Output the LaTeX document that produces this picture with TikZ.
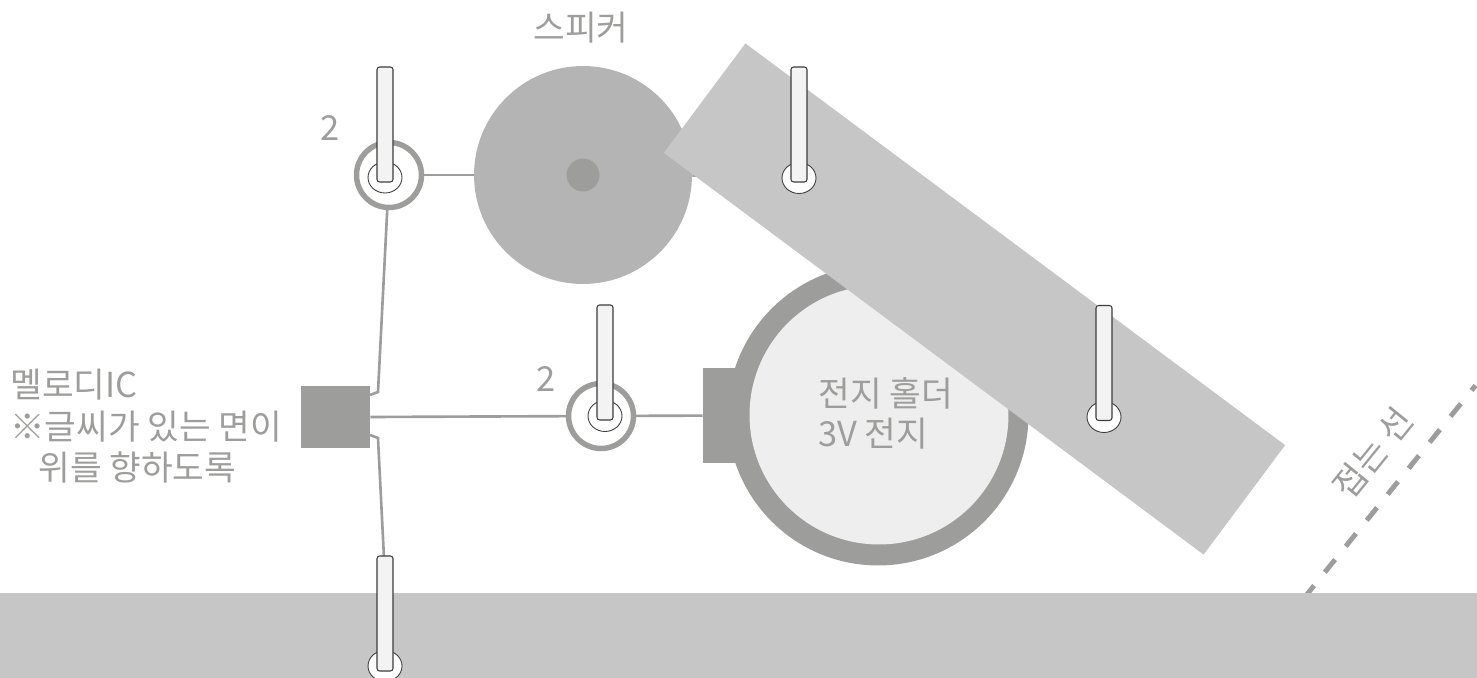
\documentclass[tikz,border=0pt]{standalone}
\usepackage{fontspec}
\setmainfont{Noto Sans CJK KR}
\usetikzlibrary{positioning, shapes.geometric}
\definecolor{darkgrey}{HTML}{9D9D9C}
\definecolor{midgrey}{HTML}{B5B4B4}
\definecolor{lightgrey}{HTML}{C6C6C6}
\definecolor{palegrey}{HTML}{EEEEEE}
\definecolor{leadfill}{HTML}{F3F3F3}
\definecolor{leadline}{HTML}{3C3C3B}

\begin{document}
\begin{tikzpicture}[
    x=0.02cm, y=-0.02cm,
    wire/.style={draw=darkgrey, line width=1.5pt},
    joint/.style={circle, draw=darkgrey, line width=3.1pt, fill=white, minimum size=1.3cm, inner sep=0pt},
    hole/.style={ellipse, draw=leadline, line width=0.5pt, fill=white, minimum width=0.68cm, minimum height=0.62cm, inner sep=0pt},
    lead/.style={rectangle, rounded corners=1.5pt, draw=leadline, line width=0.6pt, fill=leadfill, minimum width=0.32cm, minimum height=2.3cm, inner sep=0pt},
    note/.style={text=darkgrey, font=\fontsize{19.6}{23}\selectfont, inner sep=0pt}
]
    \useasboundingbox (0,0) rectangle (1477,678);

    % Fold line and base
    \coordinate (foldtop) at (1475.5,385.5);
    \coordinate (foldbottom) at (1300,603);
    \draw[darkgrey, line width=2.8pt, dash pattern=on 9.3pt off 9.7pt, dash phase=5.7pt] (foldtop) -- (foldbottom);
    \node[rectangle, fill=lightgrey, minimum width=29.6cm, minimum height=1.7cm, inner sep=0pt] (base) at (738.5,635.5) {};

    % Speaker
    \node[circle, fill=midgrey, minimum size=4.36cm, inner sep=0pt] (speaker) at (583,175) {};
    \node[circle, fill=darkgrey, minimum size=0.66cm, inner sep=0pt] (magnet) at (583,175) {};

    % Battery holder
    \node[rectangle, fill=darkgrey, minimum width=1.2cm, minimum height=1.9cm, inner sep=0pt] (tab) at (733,415.5) {};
    \node[circle, fill=darkgrey, minimum size=6.02cm, inner sep=0pt] (holder) at (878,415) {};
    \node[circle, fill=palegrey, minimum size=5.18cm, inner sep=0pt] (cell) at (879,415) {};

    % Melody IC
    \node[rectangle, fill=darkgrey, minimum width=1.38cm, minimum height=1.24cm, inner sep=0pt] (ic) at (335.5,417) {};

    % Joints
    \node[joint] (topjoint) at (389,175) {};
    \node[joint] (midjoint) at (601,416) {};

    % Wires
    \coordinate (upperbend) at (378,392);
    \coordinate (upperleg) at (370,395);
    \coordinate (lowerbend) at (378,438);
    \coordinate (lowerleg) at (370,435);
    \coordinate (bottomend) at (384,558);
    \coordinate (stripend) at (799,176);
    \draw[wire] (topjoint) -- (speaker);
    \draw[wire] (speaker) -- (stripend);
    \draw[wire] (topjoint) -- (upperbend) -- (upperleg);
    \draw[wire] (ic.east) -- (midjoint);
    \draw[wire] (midjoint) -- (tab);
    \draw[wire] (lowerleg) -- (lowerbend) -- (bottomend);

    % Copper strip
    \node[rectangle, fill=lightgrey, minimum width=13.46cm, minimum height=2.73cm, inner sep=0pt, rotate=-36.66] (strip) at (974.5,299) {};

    % Holes
    \node[hole] (tophole) at (385,177.5) {};
    \node[hole] (midhole) at (605,416) {};
    \node[hole] (striphole) at (799,178) {};
    \node[hole] (farhole) at (1104,417) {};
    \node[hole] (basehole) at (385,666) {};

    % Leads
    \node[lead] (toplead) at (385,124.5) {};
    \node[lead] (midlead) at (605,362.5) {};
    \node[lead] (striplead) at (799,124.5) {};
    \node[lead] (farlead) at (1104,363) {};
    \node[lead] (baselead) at (385,613.5) {};

    % Labels
    \node[note] (speakername) at (581,28) {스피커};
    \node[note] (topcount) at (330,128) {2};
    \node[note] (midcount) at (546,379) {2};
    \node[note, anchor=west] (holdername) at (818,393) {전지 홀더};
    \node[note, anchor=west] (cellname) at (818,434) {3V 전지};
    \node[note, anchor=west] (icname) at (10,385) {멜로디IC};
    \node[note, anchor=west] (icnote) at (10,427) {※글씨가 있는 면이};
    \node[note, anchor=west] (icnotetwo) at (38,467) {위를 향하도록};
    \node[note, rotate=51] (foldname) at (1373,453) {접는 선};

\end{tikzpicture}
\end{document}
